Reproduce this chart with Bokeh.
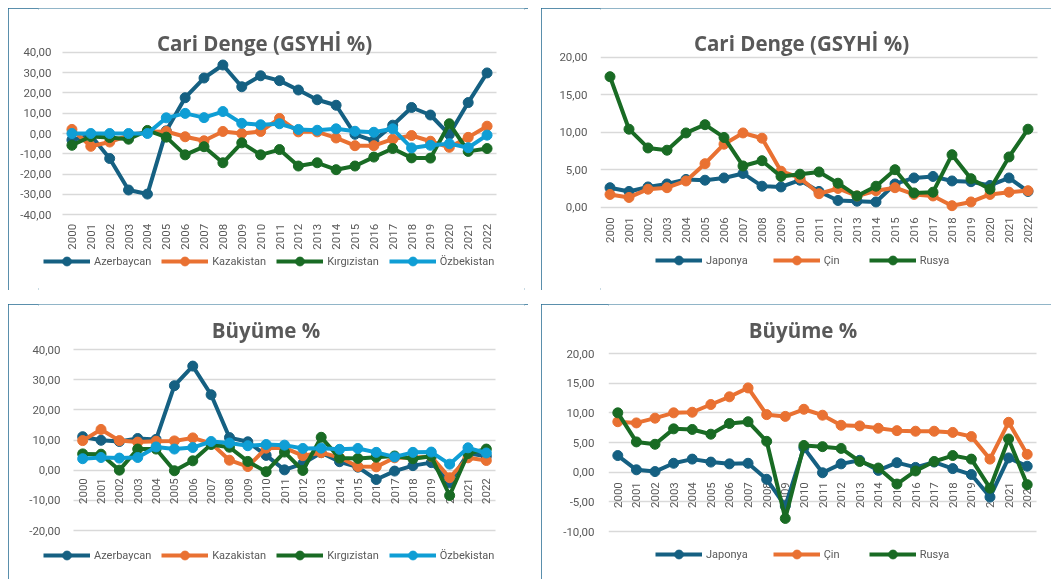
from bokeh.plotting import figure
from bokeh.models import Range1d, FixedTicker, CustomJSTickFormatter, Legend, LegendItem, Label
from bokeh.layouts import row, column
from bokeh.embed import file_html
from bokeh.resources import INLINE
from bokeh.core.properties import value

years = [str(y) for y in range(2000, 2023)]

# ---- Cari Denge (GSYHİ %) : Central Asia ----
ca_azerbaycan = [-3.2, -0.9, -12.3, -27.8, -29.8, 1.3, 17.6, 27.3, 33.7, 23.0, 28.4, 26.0, 21.4, 16.6, 13.9, -0.4, -3.6, 4.1, 12.8, 9.1, -0.5, 15.2, 29.8]
ca_kazakistan = [2.0, -6.3, -4.2, -0.9, 0.8, 1.0, -1.6, -3.6, 1.0, 0.0, 1.0, 7.4, 0.8, 0.8, -2.2, -6.0, -6.0, -2.8, -1.0, -3.8, -6.8, -1.9, 3.6]
ca_kirgizistan = [-5.8, -1.5, -2.0, -2.8, 1.5, -1.8, -10.5, -6.5, -14.4, -4.6, -10.5, -7.9, -16.0, -14.4, -17.8, -16.0, -11.6, -7.4, -12.0, -12.1, 4.8, -8.8, -7.4]
ca_ozbekistan = [0.0, 0.0, 0.0, 0.0, 0.0, 7.7, 9.9, 7.8, 10.8, 5.0, 4.3, 4.8, 2.0, 1.6, 2.3, 1.1, 0.6, 2.3, -7.1, -5.8, -5.0, -7.0, -0.8]

# ---- Cari Denge (GSYHİ %) : Japan, China, Russia ----
ca_japonya = [2.6, 2.1, 2.7, 3.1, 3.7, 3.6, 3.9, 4.5, 2.8, 2.7, 3.6, 2.1, 0.9, 0.8, 0.7, 3.1, 3.9, 4.1, 3.5, 3.4, 2.9, 3.9, 2.1]
ca_cin = [1.7, 1.3, 2.4, 2.6, 3.5, 5.8, 8.4, 9.9, 9.2, 4.8, 3.9, 1.8, 2.5, 1.5, 2.2, 2.6, 1.7, 1.5, 0.2, 0.7, 1.7, 2.0, 2.2]
ca_rusya = [17.4, 10.4, 7.9, 7.6, 9.9, 11.0, 9.3, 5.5, 6.2, 4.1, 4.4, 4.7, 3.2, 1.5, 2.8, 5.0, 1.9, 2.0, 7.0, 3.8, 2.4, 6.7, 10.4]

# ---- Büyüme % : Central Asia ----
gr_azerbaycan = [11.1, 9.9, 9.5, 10.5, 10.2, 28.0, 34.5, 25.0, 10.8, 9.4, 4.9, 0.1, 2.2, 5.8, 2.8, 1.0, -3.1, -0.3, 1.5, 2.5, -4.2, 5.6, 4.6]
gr_kazakistan = [9.8, 13.5, 9.8, 9.3, 9.6, 9.7, 10.7, 8.9, 3.3, 1.2, 7.3, 7.4, 4.8, 5.8, 4.2, 1.2, 1.1, 4.1, 4.1, 4.5, -2.5, 4.1, 3.2]
gr_kirgizistan = [5.4, 5.3, 0.0, 7.0, 7.0, -0.2, 3.1, 8.5, 7.6, 2.9, -0.5, 6.0, -0.1, 10.9, 4.0, 3.9, 4.3, 4.7, 3.8, 4.6, -8.4, 5.5, 7.0]
gr_ozbekistan = [3.8, 4.2, 4.0, 4.2, 7.7, 7.0, 7.5, 9.5, 9.0, 8.1, 8.5, 8.3, 7.2, 7.3, 6.9, 7.2, 5.9, 4.4, 5.9, 6.0, 2.0, 7.4, 5.7]

# ---- Büyüme % : Japan, China, Russia ----
gr_japonya = [2.8, 0.4, 0.1, 1.5, 2.2, 1.7, 1.4, 1.5, -1.2, -5.7, 4.1, -0.1, 1.4, 2.0, 0.3, 1.6, 0.8, 1.7, 0.6, -0.4, -4.2, 2.4, 1.0]
gr_cin = [8.5, 8.3, 9.1, 10.0, 10.1, 11.4, 12.7, 14.2, 9.7, 9.4, 10.6, 9.6, 7.9, 7.8, 7.4, 7.0, 6.9, 6.9, 6.7, 6.0, 2.2, 8.4, 3.0]
gr_rusya = [10.0, 5.1, 4.7, 7.3, 7.2, 6.4, 8.2, 8.5, 5.2, -7.8, 4.5, 4.3, 4.0, 1.8, 0.7, -2.0, 0.2, 1.8, 2.8, 2.2, -2.7, 5.6, -2.1]

names_ca = ["Azerbaycan", "Kazakistan", "Kırgızistan", "Özbekistan"]
names_big = ["Japonya", "Çin", "Rusya"]
colors_ca = ["#156082", "#E97132", "#196B24", "#0F9ED5"]
colors_big = ["#156082", "#E97132", "#196B24"]

ticks_tl = [-40, -30, -20, -10, 0, 10, 20, 30, 40]
ticks_tr = [0, 5, 10, 15, 20]
ticks_bl = [-20, -10, 0, 10, 20, 30, 40]
ticks_br = [-10, -5, 0, 5, 10, 15, 20]

TXT = "#595959"
GRID = "#d9d9d9"
BORDER = "#236a90"
TICK_FONT = "Roboto"
TICK_SIZE = "11.5px"
LEGEND_SIZE = "11px"
W, H = 520, 282

fmt_code = "return tick.toFixed(2).replace('.', ',');"
positions = list(range(len(years)))  # category slots on the horizontal scale


def make_panel(title, series, names, colors, ticks, g):
    # g: pixel geometry of the panel in page coordinates
    top, left = g["top"], g["left"]
    bottom = top + H
    f_l = g["frame_left"]
    f_r = left + W - 4
    kx = (g["grid_right"] - g["grid_left"]) / len(years)
    x_start = (f_l - g["grid_left"]) / kx - 0.5
    x_end = (f_r - g["grid_left"]) / kx - 0.5
    ky = (g["tick_bot"] - g["tick_top"]) / (ticks[-1] - ticks[0])
    y_end = ticks[-1] + (g["tick_top"] - top) / ky
    y_start = ticks[0] - (bottom - g["tick_bot"]) / ky

    p = figure(width=W, height=H, output_backend="svg", toolbar_location=None,
               title=None, x_axis_type=None,
               x_range=Range1d(x_start, x_end), y_range=Range1d(y_start, y_end),
               min_border_left=f_l - left, min_border_right=left + W - f_r,
               min_border_top=0, min_border_bottom=0,
               background_fill_color="white", border_fill_color="white",
               outline_line_color=None, tools="")
    p.styles = {"outline": "2px solid " + BORDER, "outline-offset": "-2px"}

    ticker = FixedTicker(ticks=ticks)
    p.yaxis.ticker = ticker
    p.ygrid.ticker = ticker
    p.yaxis.formatter = CustomJSTickFormatter(code=fmt_code)
    p.yaxis.axis_line_color = None
    p.yaxis.major_tick_line_color = None
    p.yaxis.minor_tick_line_color = None
    p.yaxis.major_tick_out = 0
    p.yaxis.major_tick_in = 0
    p.yaxis.major_label_standoff = int(round(f_l - g["ylab_right"]))
    p.yaxis.major_label_text_font = TICK_FONT
    p.yaxis.major_label_text_font_size = TICK_SIZE
    p.yaxis.major_label_text_color = TXT
    p.ygrid.grid_line_color = GRID
    p.ygrid.grid_line_width = 1.5
    try:
        p.ygrid.cross_bounds = (-0.5, len(years) - 0.5)
    except Exception:
        p.ygrid.visible = False
        p.segment(x0=[-0.5] * len(ticks), x1=[len(years) - 0.5] * len(ticks),
                  y0=ticks, y1=ticks, line_color=GRID, line_width=1.5)

    # category labels, rotated, hanging below the horizontal axis position
    p.text(x=positions, y=[g["label_y"]] * len(years), text=years, angle=1.5707963,
           text_align="right", text_baseline="middle", y_offset=g["xstand"],
           text_font=value(TICK_FONT), text_font_size=TICK_SIZE, text_color=TXT)

    items = []
    for vals, name, col in zip(series, names, colors):
        lr = p.line(x=positions, y=vals, line_color=col, line_width=4)
        sr = p.scatter(x=positions, y=vals, size=10, fill_color=col, line_color=col)
        items.append(LegendItem(label=name, renderers=[lr, sr]))

    p.add_layout(Label(x=g["title_x"] - f_l, y=bottom - g["title_y"],
                       x_units="screen", y_units="screen", text=title,
                       text_align="center", text_baseline="middle",
                       text_font="Open Sans", text_font_size="20.5px",
                       text_font_style="bold", text_color=TXT))

    lg = Legend(items=items, orientation="horizontal",
                location=(g["legend_left"] - f_l, bottom - (g["legend_cy"] + 11)),
                padding=0, margin=0, spacing=g["lspace"], label_standoff=4,
                glyph_width=47, glyph_height=22, label_height=22,
                label_text_font=TICK_FONT, label_text_font_size=LEGEND_SIZE,
                label_text_color=TXT, background_fill_alpha=0, border_line_alpha=0)
    p.add_layout(lg)
    return p


g_tl = dict(top=8, left=8, frame_left=38, grid_left=62, grid_right=496,
            tick_top=51.7, tick_bot=214.3, ylab_right=51, label_y=-40, xstand=9,
            title_x=264, title_y=42, legend_left=43, legend_cy=261, lspace=10)
g_tr = dict(top=8, left=541, frame_left=600, grid_left=600, grid_right=1037,
            tick_top=56.7, tick_bot=206.7, ylab_right=587, label_y=0, xstand=10,
            title_x=801, title_y=42, legend_left=655, legend_cy=260, lspace=25)
g_bl = dict(top=304, left=8, frame_left=38, grid_left=73, grid_right=495,
            tick_top=349, tick_bot=530, ylab_right=60, label_y=0, xstand=8,
            title_x=265.5, title_y=329, legend_left=43, legend_cy=555, lspace=10)
g_br = dict(top=304, left=541, frame_left=608, grid_left=608, grid_right=1036,
            tick_top=353, tick_bot=531, ylab_right=594, label_y=0, xstand=10,
            title_x=802.5, title_y=329, legend_left=655, legend_cy=554, lspace=25)

p1 = make_panel("Cari Denge (GSYHİ %)",
                [ca_azerbaycan, ca_kazakistan, ca_kirgizistan, ca_ozbekistan],
                names_ca, colors_ca, ticks_tl, g_tl)
p2 = make_panel("Cari Denge (GSYHİ %)",
                [ca_japonya, ca_cin, ca_rusya],
                names_big, colors_big, ticks_tr, g_tr)
p3 = make_panel("Büyüme %",
                [gr_azerbaycan, gr_kazakistan, gr_kirgizistan, gr_ozbekistan],
                names_ca, colors_ca, ticks_bl, g_bl)
p4 = make_panel("Büyüme %",
                [gr_japonya, gr_cin, gr_rusya],
                names_big, colors_big, ticks_br, g_br)

layout = column(row(p1, p2, spacing=13), row(p3, p4, spacing=13), spacing=14,
                styles={"position": "fixed", "top": "8px", "left": "8px"})

open("out.html", "w").write(file_html(layout, INLINE))
